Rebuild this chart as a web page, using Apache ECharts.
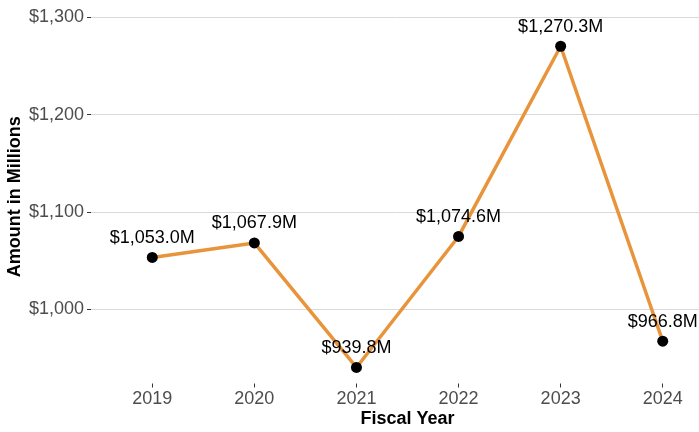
<!DOCTYPE html>
<html>
<head>
<meta charset="utf-8">
<script src="https://cdn.jsdelivr.net/npm/echarts@6/dist/echarts.min.js"></script>
<style>
  html, body { margin: 0; padding: 0; background: #fff; }
  #chart { width: 699px; height: 432px; }
</style>
</head>
<body>
<div id="chart"></div>
<script>
// fiscal years and amounts (millions of dollars)
var years = [2019, 2020, 2021, 2022, 2023, 2024]
var amounts = [1053.0, 1067.9, 939.8, 1074.6, 1270.3, 966.8]
var yTicks = [1000, 1100, 1200, 1300]

var fmtMoney = function (v) {
  return '$' + v.toLocaleString('en-US')
}

var chart = echarts.init(document.getElementById('chart'))
chart.setOption({
  animation: false,
  textStyle: { fontFamily: 'Liberation Sans, Arial, sans-serif' },
  grid: { left: 91, right: -25, top: 10, bottom: 48.5, containLabel: false, outerBoundsMode: 'none' },
  xAxis: {
    type: 'value',
    min: 2018.4,
    max: 2024.6,
    name: 'Fiscal Year',
    nameLocation: 'middle',
    nameGap: 27,
    nameMoveOverlap: false,
    nameTextStyle: { fontSize: 18, fontWeight: 'bold', color: '#000' },
    axisLine: { show: false },
    axisTick: { show: true, customValues: years, length: 4, lineStyle: { color: '#333' } },
    axisLabel: {
      customValues: years,
      margin: 7,
      fontSize: 18,
      color: '#4d4d4d',
      formatter: function (v) { return String(v) }
    },
    splitLine: { show: false }
  },
  yAxis: {
    type: 'value',
    min: 923.3,
    max: 1307.6,
    name: 'Amount in Millions',
    nameLocation: 'middle',
    nameGap: 67,
    nameMoveOverlap: false,
    nameTextStyle: { fontSize: 18, fontWeight: 'bold', color: '#000' },
    axisLine: { show: false },
    axisTick: { show: true, customValues: yTicks, length: 4, lineStyle: { color: '#333' } },
    axisLabel: {
      customValues: yTicks,
      margin: 7,
      fontSize: 18,
      color: '#4d4d4d',
      formatter: fmtMoney
    },
    splitLine: { show: true, lineStyle: { color: '#d9d9d9', width: 1 } }
  },
  series: [
    {
      type: 'line',
      data: years.map(function (y, i) { return [y, amounts[i]] }),
      symbol: 'circle',
      symbolSize: 11,
      itemStyle: { color: '#000' },
      lineStyle: { color: '#e8943a', width: 3.5 },
      label: {
        show: true,
        position: 'top',
        distance: 5,
        fontSize: 18,
        color: '#000',
        formatter: function (p) { return '$' + p.value[1].toLocaleString('en-US', { minimumFractionDigits: 1, maximumFractionDigits: 1 }) + 'M' }
      }
    }
  ]
})
window.addEventListener('resize', function () {
  chart.resize()
})
</script>
</body>
</html>
